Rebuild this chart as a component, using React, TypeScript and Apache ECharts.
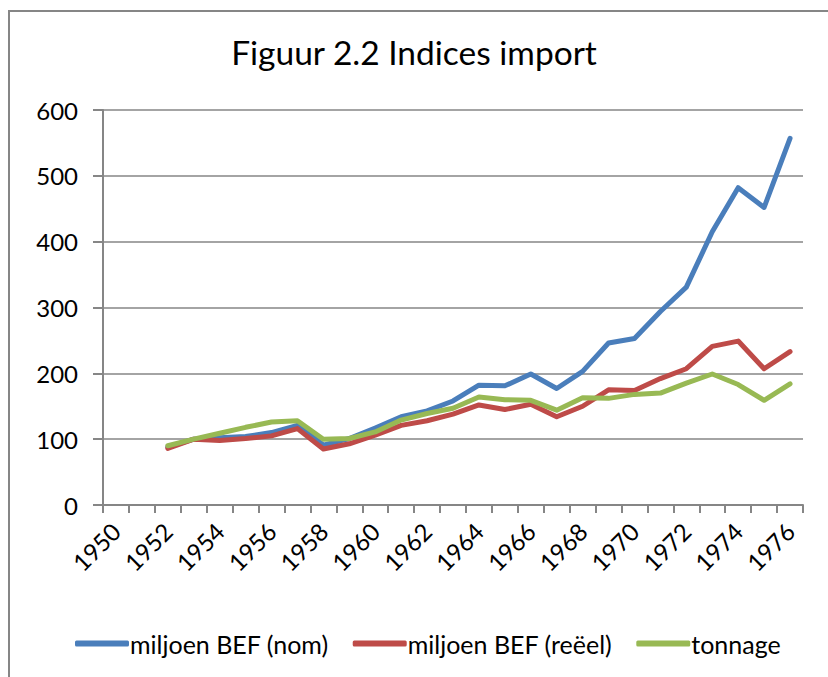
import React, { useEffect, useRef } from "react";
import * as echarts from "echarts";

const years = [
  "1950", "1951", "1952", "1953", "1954", "1955", "1956", "1957", "1958", "1959",
  "1960", "1961", "1962", "1963", "1964", "1965", "1966", "1967", "1968", "1969",
  "1970", "1971", "1972", "1973", "1974", "1975", "1976",
];

const nominal = [
  null, null, 88, 100, 102, 104, 110, 121, 91, 101,
  117, 134, 143, 158, 182, 181, 199, 177, 203, 246,
  253, 294, 331, 415, 482, 452, 557,
];

const real = [
  null, null, 86, 100, 98, 101, 105, 116, 85, 93,
  106, 121, 128, 138, 152, 145, 153, 134, 150, 175,
  174, 192, 207, 241, 249, 207, 233,
];

const tonnage = [
  null, null, 90, 100, 109, 118, 126, 128, 100, 101,
  111, 129, 139, 147, 164, 160, 159, 144, 163, 162,
  168, 170, 185, 199, 183, 159, 184,
];

const seriesNames = ["miljoen BEF (nom)", "miljoen BEF (reëel)", "tonnage"];
const colors = ["#4a7ebb", "#be4b48", "#98b954"];
const FONT = "Lato, 'Open Sans', sans-serif";

export default function App() {
  const ref = useRef<HTMLDivElement>(null);
  useEffect(() => {
    if (!ref.current) return;
    const chart = echarts.init(ref.current, undefined, { renderer: "svg" });
    const data = [nominal, real, tonnage];
    chart.setOption({
      animation: false,
      backgroundColor: "#ffffff",
      textStyle: { fontFamily: FONT },
      graphic: [
        {
          type: "rect",
          shape: { x: 9, y: 11, width: 850, height: 700 },
          style: { fill: "none", stroke: "#868686", lineWidth: 2 },
          silent: true,
        },
      ],
      title: {
        text: "Figuur 2.2 Indices import",
        left: "center",
        top: 30,
        textStyle: { fontFamily: FONT, fontSize: 33.5, fontWeight: "normal", color: "#000" },
      },
      legend: {
        bottom: 16,
        left: 70,
        icon: "roundRect",
        itemWidth: 54,
        itemHeight: 6,
        itemGap: 24,
        textStyle: { fontFamily: FONT, fontSize: 25, color: "#000", padding: [0, 0, 0, -4] },
        data: seriesNames,
      },
      grid: { left: 103, right: 25, top: 110, bottom: 172, containLabel: false },
      xAxis: {
        type: "category",
        data: years,
        boundaryGap: true,
        axisLine: { lineStyle: { color: "#868686", width: 2 } },
        axisTick: { show: true, interval: 0, length: 8, lineStyle: { color: "#868686", width: 2 } },
        axisLabel: {
          interval: 1,
          rotate: 45,
          fontSize: 24,
          color: "#000",
          fontFamily: FONT,
          margin: 22,
        },
      },
      yAxis: {
        type: "value",
        min: 0,
        max: 600,
        interval: 100,
        axisLine: { show: true, lineStyle: { color: "#868686", width: 2 } },
        axisTick: { show: true, length: 10, lineStyle: { color: "#868686", width: 2 } },
        splitLine: { lineStyle: { color: "#868686", width: 1.5 } },
        axisLabel: { fontSize: 24, color: "#000", fontFamily: FONT, margin: 25 },
      },
      series: seriesNames.map((name, i) => ({
        name,
        type: "line",
        data: data[i],
        showSymbol: false,
        symbol: "none",
        lineStyle: { color: colors[i], width: 5, cap: "round", join: "round" },
        itemStyle: { color: colors[i] },
      })),
    });
    return () => chart.dispose();
  }, []);
  return <div ref={ref} style={{ width: 828, height: 677, position: "absolute", left: 0, top: 0 }} />;
}
